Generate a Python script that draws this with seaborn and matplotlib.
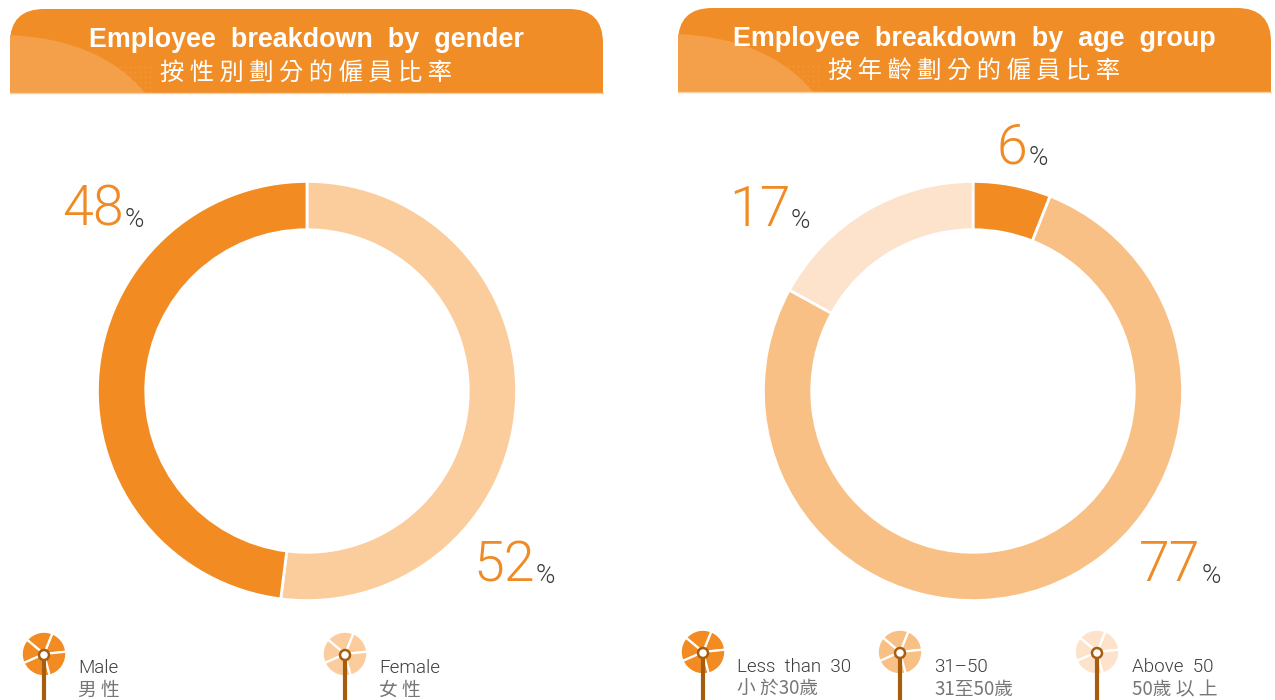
import numpy as np
import matplotlib.pyplot as plt
import seaborn as sns
from matplotlib.patches import PathPatch, Circle
from matplotlib.path import Path

gender_labels_en = ['Female', 'Male']
gender_labels_zh = ['女 性', '男 性']
gender_values = [52, 48]
gender_colors = ['#FBCD9C', '#F28C22']

age_labels_en = ['Less  than  30', '31–50', 'Above  50']
age_labels_zh = ['小 於30歲', '31至50歲', '50歲 以 上']
age_values = [6, 77, 17]
age_colors = ['#F28C22', '#F9C086', '#FDE3CC']

icon_slices = [62, 72, 64, 81, 81]

W, H = 1275, 700
sns.set_theme(style='white')
plt.rcParams['font.family'] = ['Roboto', 'Noto Sans CJK TC', 'DejaVu Sans']

fig = plt.figure(figsize=(W / 100, H / 100), dpi=100, facecolor='white')
ov = fig.add_axes([0, 0, 1, 1], zorder=3)
ov.set_xlim(0, W)
ov.set_ylim(H, 0)
ov.axis('off')


def pie_ax(cx, cy, r):
    ax = fig.add_axes([(cx - r) / W, 1 - (cy + r) / H, 2 * r / W, 2 * r / H], zorder=2)
    ax.axis('off')
    return ax


def donut(cx, cy, values, colors):
    ax = pie_ax(cx, cy, 210)
    ax.pie(values, colors=colors, startangle=90, counterclock=False, radius=0.998,
           wedgeprops=dict(width=0.23, edgecolor='white', linewidth=2))
    ax.set_xlim(-1, 1)
    ax.set_ylim(-1, 1)


def header(x0, y0, en, zh):
    x1, y1, rad = x0 + 593, y0 + 84, 34
    verts = [(x0, y1), (x0, y0 + rad), (x0, y0), (x0 + rad, y0), (x1 - rad, y0), (x1, y0), (x1, y0 + rad), (x1, y1), (x0, y1)]
    codes = [Path.MOVETO, Path.LINETO, Path.CURVE3, Path.CURVE3, Path.LINETO, Path.CURVE3, Path.CURVE3, Path.LINETO, Path.CLOSEPOLY]
    ov.add_patch(PathPatch(Path(verts, codes), fc='#F18D27', ec='none'))
    verts = [(x0, y1), (x0, y0 + 26), (x0 + 90, y0 + 30), (x0 + 135, y1), (x0, y1)]
    codes = [Path.MOVETO, Path.LINETO, Path.CURVE3, Path.CURVE3, Path.CLOSEPOLY]
    ov.add_patch(PathPatch(Path(verts, codes), fc='#F4A04A', ec='none'))
    # dotted texture along the swoosh edge
    gx, gy = np.meshgrid(np.arange(x0 + 100, x0 + 145, 5), np.arange(y0 + 58, y1, 5))
    ov.scatter(gx.ravel(), gy.ravel(), s=3, color='#F4A04A', linewidths=0, alpha=0.4)
    ov.plot([x0, x1], [y1, y1], color='#FBCD9C', lw=1)
    ov.text((x0 + x1) / 2, y0 + 38, en, color='white', fontsize=19.4, fontweight='bold',
            family=['Liberation Sans'], ha='center', va='baseline')
    ov.text((x0 + x1) / 2, y0 + 71, zh, color='white', fontsize=17.5,
            family=['Noto Sans CJK TC'], ha='center', va='baseline')


def pct(x_mid, x_pct, base, val):
    ov.text(x_mid, base, str(val), color='#F08A24', fontsize=40, fontweight=300,
            ha='center', va='baseline')
    ov.text(x_pct, base + 2, '%', color='#3A3A3A', fontsize=19, fontweight=300,
            ha='left', va='baseline')


def legend_item(cx, cy, color, tx, base, en, zh):
    ax = pie_ax(cx, cy, 23)
    ax.pie(icon_slices, colors=[color], startangle=6, radius=0.97,
           wedgeprops=dict(edgecolor='white', linewidth=1.6))
    ax.set_xlim(-1, 1)
    ax.set_ylim(-1, 1)
    ov.plot([cx, cx], [cy + 5, 700], color='#A65E0E', lw=3, solid_capstyle='butt')
    ov.add_patch(Circle((cx, cy + 1), 5, fc='white', ec='#A65E0E', lw=1.8, zorder=5))
    ov.text(tx, base, en, color='#3C3C3C', fontsize=13.5, fontweight=300, ha='left', va='baseline')
    ov.text(tx, base + 23, zh, color='#777777', fontsize=13.5, ha='left', va='baseline',
            family=['Noto Sans CJK TC'])


header(10, 9, 'Employee  breakdown  by  gender', '按 性 別 劃 分 的 僱 員 比 率')
header(678, 8, 'Employee  breakdown  by  age  group', '按 年 齡 劃 分 的 僱 員 比 率')

donut(307, 391, gender_values, gender_colors)
donut(973, 391, age_values, age_colors)

pct(93, 125, 225, gender_values[1])
pct(504, 536, 581, gender_values[0])
pct(1012, 1029, 163, age_values[0])
pct(760, 791, 226, age_values[2])
pct(1170, 1202, 581, age_values[1])

legend_item(44, 654, gender_colors[1], 78, 673, gender_labels_en[1], gender_labels_zh[1])
legend_item(345, 654, gender_colors[0], 379, 673, gender_labels_en[0], gender_labels_zh[0])
legend_item(703, 652, age_colors[0], 737, 672, age_labels_en[0], age_labels_zh[0])
legend_item(900, 652, age_colors[1], 934, 672, age_labels_en[1], age_labels_zh[1])
legend_item(1097, 652, age_colors[2], 1132, 672, age_labels_en[2], age_labels_zh[2])

fig.savefig('out.png', dpi=100, facecolor='white')
